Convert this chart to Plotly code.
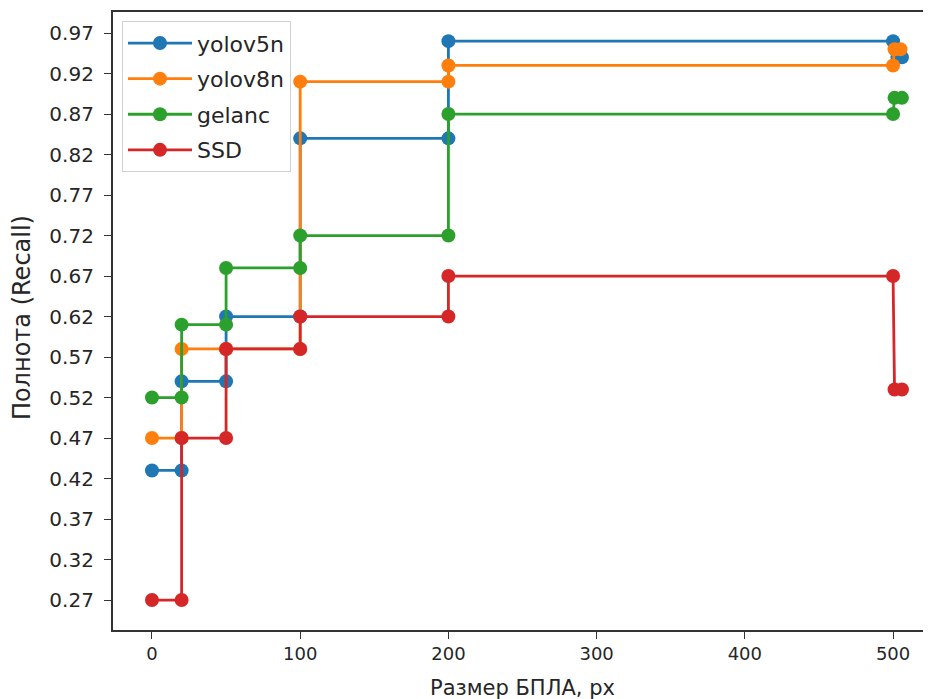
import plotly.graph_objects as go

# Data
x_yolov5n = [0, 20, 20, 50, 50, 100, 100, 200, 200, 500, 503, 506]
y_yolov5n = [0.43, 0.43, 0.54, 0.54, 0.62, 0.62, 0.84, 0.84, 0.96, 0.96, 0.94, 0.94]

x_yolov8n = [0, 20, 20, 50, 50, 100, 100, 200, 200, 500, 501, 505]
y_yolov8n = [0.47, 0.47, 0.58, 0.58, 0.58, 0.58, 0.91, 0.91, 0.93, 0.93, 0.95, 0.95]

x_gelanc = [0, 20, 20, 50, 50, 100, 100, 200, 200, 500, 501, 506]
y_gelanc = [0.52, 0.52, 0.61, 0.61, 0.68, 0.68, 0.72, 0.72, 0.87, 0.87, 0.89, 0.89]

x_ssd = [0, 20, 20, 50, 50, 100, 100, 200, 200, 500, 501, 506]
y_ssd = [0.27, 0.27, 0.47, 0.47, 0.58, 0.58, 0.62, 0.62, 0.67, 0.67, 0.53, 0.53]

y_ticks = [0.27, 0.32, 0.37, 0.42, 0.47, 0.52, 0.57, 0.62, 0.67, 0.72, 0.77, 0.82, 0.87, 0.92, 0.97]
x_ticks = [0, 100, 200, 300, 400, 500]

series = [
    ("yolov5n", x_yolov5n, y_yolov5n, "#1f77b4"),
    ("yolov8n", x_yolov8n, y_yolov8n, "#ff7f0e"),
    ("gelanc", x_gelanc, y_gelanc, "#2ca02c"),
    ("SSD", x_ssd, y_ssd, "#d62728"),
]

fig = go.Figure()
for name, xs, ys, col in series:
    fig.add_trace(go.Scatter(
        x=xs, y=ys, name=name, legendgroup=name, mode="lines+markers",
        line=dict(color=col, width=2.8),
        marker=dict(color=col, size=14),
    ))

font_family = "DejaVu Sans, Liberation Sans, sans-serif"

fig.update_layout(
    width=923, height=691,
    margin=dict(l=105, r=0, t=4, b=69),
    paper_bgcolor="white", plot_bgcolor="white",
    font=dict(family=font_family, size=15, color="#262626"),
    showlegend=True,
    legend=dict(
        x=0.011, y=0.985, xanchor="left", yanchor="top",
        bgcolor="rgba(255,255,255,0.8)", bordercolor="#d0d0d0", borderwidth=1,
        font=dict(size=22, color="#262626"),
        tracegroupgap=4, itemwidth=64,
    ),
    xaxis=dict(
        range=[-26.3, 525.6], tickmode="array", tickvals=x_ticks,
        ticks="outside", ticklen=7, tickcolor="#333", tickwidth=1.2,
        showline=True, linecolor="#333", linewidth=1.5, mirror=True,
        showgrid=False, zeroline=False,
        tickfont=dict(size=18),
    ),
    yaxis=dict(
        range=[0.233, 0.996], tickmode="array", tickvals=y_ticks,
        ticktext=[f"{v:.2f}\u00a0" for v in y_ticks],
        ticks="outside", ticklen=7, tickcolor="#333", tickwidth=1.2,
        showline=True, linecolor="#333", linewidth=1.5,
        showgrid=False, zeroline=False,
        tickfont=dict(size=20),
    ),
    annotations=[
        dict(text="Размер БПЛА, px", xref="paper", yref="paper",
             x=0.5, y=-0.094, xanchor="center", yanchor="middle",
             showarrow=False, font=dict(size=21, color="#262626")),
        dict(text="Полнота (Recall)", xref="paper", yref="paper",
             x=-0.111, y=0.505, xanchor="center", yanchor="middle",
             textangle=-90, showarrow=False, font=dict(size=24, color="#262626")),
    ],
)

fig.write_html("out.html")
